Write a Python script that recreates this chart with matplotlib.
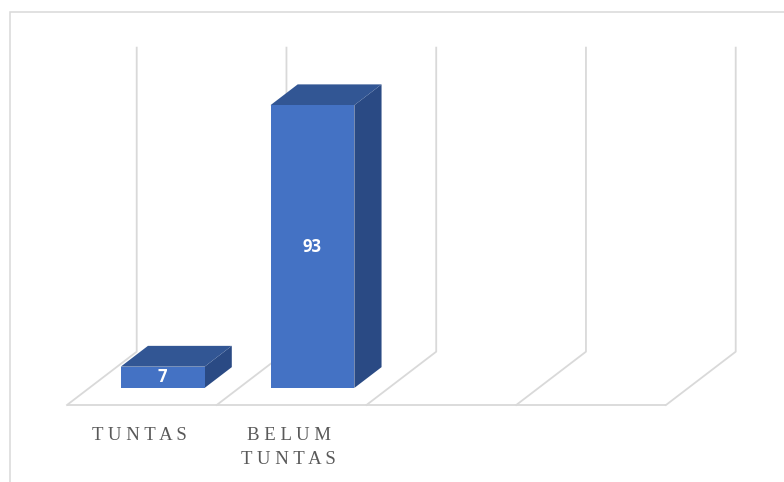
import matplotlib
matplotlib.use('Agg')
import matplotlib.pyplot as plt
from matplotlib.patches import Polygon, Rectangle

categories = ["TUNTAS", "BELUM\nTUNTAS", "", ""]
values = [7, 93, None, None]
value_max = 100

# colours
front_col = '#4472C4'
top_col = '#325694'
side_col = '#2A4A84'
grid_col = '#D9D9D9'
text_col = '#595959'

# oblique "3d" look: how far the back wall is shifted (x in categories, y in value units)
DX, DV = 0.4655, 17.53
d0, d1 = 0.32, 0.71      # depth range of the bars
half_w = 0.28


def proj(x, v, d):
    return (x + d * DX, v + d * DV)


fig = plt.figure(figsize=(7.84, 4.82), dpi=100)
ax = fig.add_axes([0, 0, 1, 1])
ax.set_xlim(-0.4474, 4.788)
ax.set_ylim(-25.33, 133.2)
ax.axis('off')

# outer chart border (only top and left visible)
fig.patches.append(Rectangle((9.5 / 784, -0.2), 1.2, 1.2 - 12 / 482, transform=fig.transFigure,
                             fill=False, edgecolor=grid_col, lw=1.1))

n = len(categories)
# floor front edge
ax.plot([0, n], [0, 0], color=grid_col, lw=1.3, solid_capstyle='butt')
for k in range(n + 1):
    xs, ys = zip(proj(k, 0, 0), proj(k, 0, 1), proj(k, value_max, 1))
    ax.plot(xs, ys, color=grid_col, lw=1.3)

for i, v in enumerate(values):
    if v is None:
        continue
    x0, x1 = i + 0.49 - half_w, i + 0.49 + half_w
    front = [proj(x0, 0, d0), proj(x1, 0, d0), proj(x1, v, d0), proj(x0, v, d0)]
    top = [proj(x0, v, d0), proj(x1, v, d0), proj(x1, v, d1), proj(x0, v, d1)]
    side = [proj(x1, 0, d0), proj(x1, 0, d1), proj(x1, v, d1), proj(x1, v, d0)]
    ax.add_patch(Polygon(side, closed=True, facecolor=side_col, edgecolor='none', zorder=3))
    ax.add_patch(Polygon(top, closed=True, facecolor=top_col, edgecolor='none', zorder=3))
    ax.add_patch(Polygon(front, closed=True, facecolor=front_col, edgecolor='none', zorder=3))
    cx, cy = proj(i + 0.49, v / 2, d0)
    ax.text(cx, cy, str(v), color='white', fontsize=12, fontweight='bold', family='Open Sans',
            ha='center', va='center', zorder=4)

for i, lab in enumerate(categories):
    if not lab:
        continue
    spaced = '\n'.join(' '.join(line) for line in lab.split('\n'))
    ax.text(i + 0.48, -7.3, spaced, color=text_col, fontsize=13.5, family='Liberation Serif',
            ha='center', va='top', linespacing=1.5)

fig.savefig('out.png', dpi=100)
